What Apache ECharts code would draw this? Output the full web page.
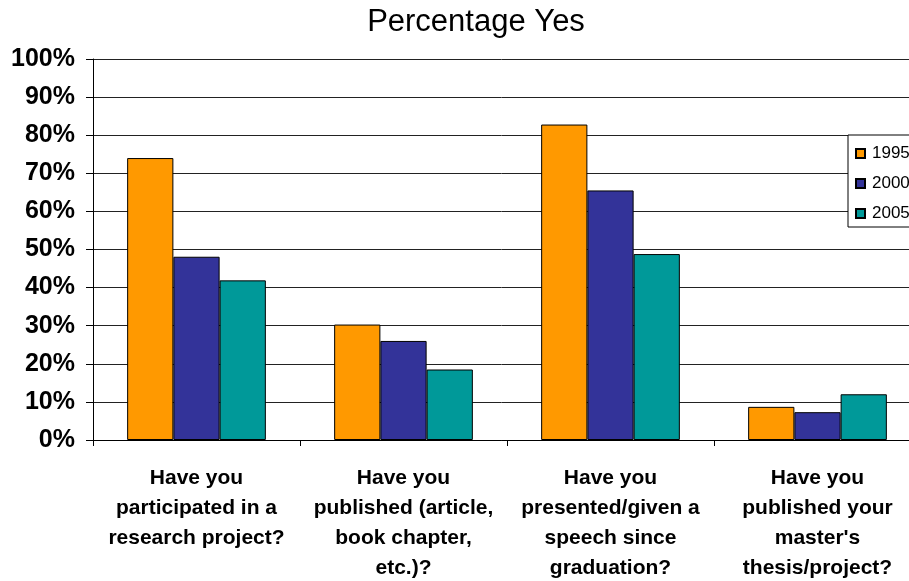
<!DOCTYPE html>
<html>
<head>
<meta charset="utf-8">
<script src="https://cdn.jsdelivr.net/npm/echarts@6/dist/echarts.min.js"></script>
<style>
  html, body { margin: 0; padding: 0; background: #fff; }
  #chart { width: 909px; height: 581px; }
</style>
</head>
<body>
<div id="chart"></div>
<script>
const categories = [
  'Have you\nparticipated in a\nresearch project?',
  'Have you\npublished (article,\nbook chapter,\netc.)?',
  'Have you\npresented/given a\nspeech since\ngraduation?',
  'Have you\npublished your\nmaster\'s\nthesis/project?'
];
const seriesNames = ['1995', '2000', '2005'];
const values1995 = [74.0, 30.3, 82.8, 8.7];
const values2000 = [48.1, 26.0, 65.5, 7.3];
const values2005 = [41.9, 18.5, 48.8, 12.0];
const yTicks = [0, 10, 20, 30, 40, 50, 60, 70, 80, 90, 100];

const colors = ['#FF9900', '#333399', '#009999'];
const allValues = [values1995, values2000, values2005];

const chart = echarts.init(document.getElementById('chart'), null, { renderer: 'canvas' });
const fontFamily = 'Liberation Sans, Arial, sans-serif';

chart.setOption({
  animation: false,
  backgroundColor: '#ffffff',
  title: {
    text: 'Percentage Yes',
    left: 471,
    top: 2,
    textAlign: 'center',
    textStyle: { fontFamily, fontSize: 31, fontWeight: 'normal', color: '#000' }
  },
  legend: {
    orient: 'vertical',
    left: 848,
    top: 135,
    data: seriesNames,
    itemWidth: 9,
    itemHeight: 9,
    itemGap: 13,
    padding: [10, 30, 5, 7],
    borderColor: '#000',
    borderWidth: 1,
    backgroundColor: '#fff',
    icon: 'rect',
    textStyle: { fontFamily, fontSize: 17, color: '#000', padding: [0, 0, 0, 2] }
  },
  grid: { left: 93, width: 828, top: 59, height: 381, outerBoundsMode: 'none', containLabel: false },
  xAxis: {
    type: 'category',
    data: categories,
    axisLine: { show: true, lineStyle: { color: '#000', width: 1 } },
    axisTick: { show: true, length: 6, lineStyle: { color: '#000' } },
    axisLabel: {
      interval: 0,
      margin: 23,
      fontFamily,
      fontSize: 21,
      fontWeight: 'bold',
      lineHeight: 30,
      color: '#000',
      align: 'center'
    }
  },
  yAxis: {
    type: 'value',
    min: yTicks[0],
    max: yTicks[yTicks.length - 1],
    interval: 10,
    axisLine: { show: true, lineStyle: { color: '#000', width: 1 } },
    axisTick: { show: true, length: 7, lineStyle: { color: '#000' } },
    splitLine: { show: true, lineStyle: { color: '#222', width: 1 } },
    axisLabel: {
      margin: 18,
      fontFamily,
      fontSize: 25,
      fontWeight: 'bold',
      color: '#000',
      formatter: v => v + '%'
    }
  },
  series: seriesNames.map((name, i) => ({
    name,
    type: 'bar',
    data: allValues[i],
    barGap: '0%',
    barCategoryGap: '33%',
    itemStyle: { color: colors[i], borderColor: '#000', borderWidth: 1 }
  }))
});
</script>
</body>
</html>
